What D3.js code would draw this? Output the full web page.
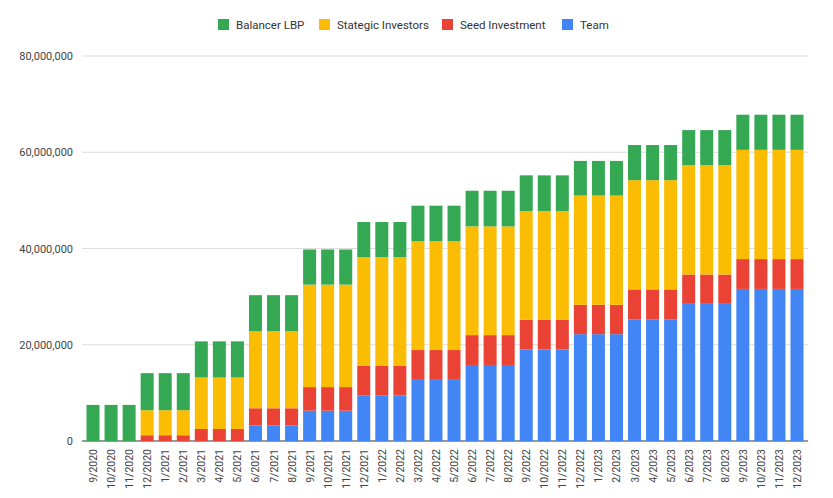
<!DOCTYPE html>
<html><head><meta charset="utf-8">
<script src="https://cdn.jsdelivr.net/npm/d3@7"></script>
<style>body{margin:0;background:#fff;font-family:Roboto,Arial,sans-serif}</style>
</head><body><svg id="c" width="833" height="498"></svg>
<script>
const months=["9/2020","10/2020","11/2020","12/2020","1/2021","2/2021","3/2021","4/2021","5/2021","6/2021","7/2021","8/2021","9/2021","10/2021","11/2021","12/2021","1/2022","2/2022","3/2022","4/2022","5/2022","6/2022","7/2022","8/2022","9/2022","10/2022","11/2022","12/2022","1/2023","2/2023","3/2023","4/2023","5/2023","6/2023","7/2023","8/2023","9/2023","10/2023","11/2023","12/2023"];
const team=[0,0,0,0,0,0,0,0,0,3.2,3.2,3.2,6.3,6.3,6.3,9.5,9.5,9.5,12.7,12.7,12.7,15.8,15.8,15.8,19.0,19.0,19.0,22.2,22.2,22.2,25.3,25.3,25.3,28.5,28.5,28.5,31.6,31.6,31.6,31.6];
const seed=[0,0,0,1.2,1.2,1.2,2.5,2.5,2.5,3.6,3.6,3.6,4.9,4.9,4.9,6.1,6.1,6.1,6.2,6.2,6.2,6.2,6.2,6.2,6.2,6.2,6.2,6.1,6.1,6.1,6.2,6.2,6.2,6.1,6.1,6.1,6.2,6.2,6.2,6.2];
const strategic=[0,0,0,5.2,5.2,5.2,10.7,10.7,10.7,16.0,16.0,16.0,21.3,21.3,21.3,22.6,22.6,22.6,22.6,22.6,22.6,22.6,22.6,22.6,22.6,22.6,22.6,22.7,22.7,22.7,22.7,22.7,22.7,22.7,22.7,22.7,22.7,22.7,22.7,22.7];
const balancer=[7.5,7.5,7.5,7.7,7.7,7.7,7.5,7.5,7.5,7.5,7.5,7.5,7.3,7.3,7.3,7.3,7.3,7.3,7.4,7.4,7.4,7.4,7.4,7.4,7.4,7.4,7.4,7.2,7.2,7.2,7.3,7.3,7.3,7.3,7.3,7.3,7.3,7.3,7.3,7.3];
const yTicks=[0,20,40,60,80];
const seriesNames=["Team","Seed Investment","Stategic Investors","Balancer LBP"];
const colors=["#4285f4","#ea4335","#fbbc04","#34a853"];

const rows=months.map((m,i)=>({m,"Team":team[i],"Seed Investment":seed[i],"Stategic Investors":strategic[i],"Balancer LBP":balancer[i]}));
const stack=d3.stack().keys(seriesNames)(rows);
const svg=d3.select("#c");
const L=82,R=808,T=56,B=441;
const x=d3.scaleBand().domain(months).range([L,R]).paddingInner(0.28).paddingOuter(0.25);
const y=d3.scaleLinear().domain([0,80]).range([B,T]);
svg.append("g").selectAll("line").data(yTicks).join("line")
 .attr("x1",L).attr("x2",R).attr("y1",d=>y(d)).attr("y2",d=>y(d))
 .attr("stroke",d=>d===0?"#333":"#ddd").attr("stroke-width",1);
svg.append("g").selectAll("text").data(yTicks).join("text")
 .attr("x",73).attr("y",d=>y(d)+4).attr("text-anchor","end").attr("font-size",11).attr("fill","#444")
 .text(d=>d3.format(",")(d*1e6));
svg.append("g").selectAll("g").data(stack).join("g").attr("fill",(d,i)=>colors[i])
 .selectAll("rect").data(d=>d).join("rect")
 .attr("x",d=>x(d.data.m)).attr("width",x.bandwidth())
 .attr("y",d=>y(d[1])).attr("height",d=>y(d[0])-y(d[1]));
svg.append("g").selectAll("text").data(months).join("text")
 .attr("transform",d=>`translate(${x(d)+x.bandwidth()/2+4},${B+8}) rotate(-90)`)
 .attr("text-anchor","end").attr("font-size",10.5).attr("fill","#444").text(d=>d);
const leg=[["Balancer LBP",3,218],["Stategic Investors",2,319],["Seed Investment",1,442],["Team",0,562]];
const lg=svg.append("g");
leg.forEach(([n,ci,lx])=>{
 lg.append("rect").attr("x",lx).attr("y",19).attr("width",11).attr("height",11).attr("fill",colors[ci]);
 lg.append("text").attr("x",lx+18).attr("y",29).attr("font-size",11.5).attr("fill","#333").text(n);
});
</script></body></html>
